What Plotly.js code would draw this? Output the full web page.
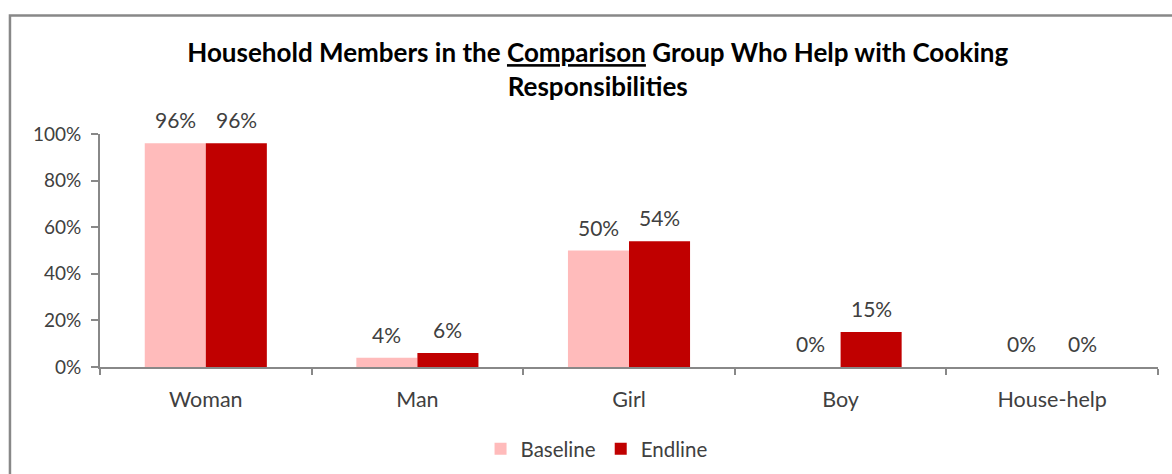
<!DOCTYPE html>
<html>
<head>
<meta charset="utf-8">
<script src="https://cdn.plot.ly/plotly-3.0.1.min.js"></script>
<style>html,body{margin:0;padding:0;background:#fff;}</style>
</head>
<body>
<div id="chart" style="width:1172px;height:474px;"></div>
<script>
var categories = ["Woman", "Man", "Girl", "Boy", "House-help"];
var baseline = [0.96, 0.04, 0.50, 0.00, 0.00];
var endline = [0.96, 0.06, 0.54, 0.15, 0.00];
var seriesNames = ["Baseline", "Endline"];
var seriesColors = ["#FFBBBB", "#C00000"];

var font = "Lato, 'Open Sans', sans-serif";
var textColor = "#404040";

function pct(v) { return Math.round(v * 100) + "%"; }

var traces = [baseline, endline].map(function (vals, i) {
  return {
    type: "bar", name: seriesNames[i], x: categories, y: vals,
    marker: {color: seriesColors[i]},
    hoverinfo: "none"
  };
});

var BAR_HALF = 30.5;
var annotations = [];
[baseline, endline].forEach(function (vals, i) {
  vals.forEach(function (v, j) {
    annotations.push({
      xref: "x", yref: "y", x: categories[j], y: v,
      xshift: i === 0 ? -BAR_HALF : BAR_HALF, yshift: 9,
      xanchor: "center", yanchor: "bottom", showarrow: false,
      text: pct(v), font: {family: font, size: 21, color: textColor}
    });
  });
});

var layout = {
  width: 1172, height: 474,
  margin: {l: 100, r: 14, t: 134, b: 107},
  paper_bgcolor: "#fff", plot_bgcolor: "#fff",
  font: {family: font, size: 18, color: textColor},
  barmode: "group", bargap: 0.423, bargroupgap: 0,
  showlegend: true,
  title: {
    text: "<b>Household Members in the <u>Comparison</u> Group Who Help with Cooking<br>Responsibilities</b>",
    font: {family: font, size: 26, color: "#000"},
    x: 0.51, xanchor: "center", xref: "container",
    y: 0.869, yanchor: "middle", yref: "container"
  },
  xaxis: {
    showline: true, linecolor: "#888888", linewidth: 2,
    ticks: "outside", ticklen: 6, tickcolor: "#888888", tickwidth: 2,
    tickson: "boundaries", showgrid: false, zeroline: false,
    ticklabelstandoff: 12,
    tickfont: {family: font, size: 21.5, color: textColor}
  },
  yaxis: {
    range: [0, 1], tickformat: ".0%", dtick: 0.2,
    showline: true, linecolor: "#888888", linewidth: 2,
    ticks: "outside", ticklen: 7, tickcolor: "#888888", tickwidth: 2,
    showgrid: false, zeroline: false,
    ticklabelstandoff: 6,
    tickfont: {family: font, size: 19, color: textColor}
  },
  legend: {
    orientation: "h", x: 0.509, xanchor: "center", xref: "container",
    y: 0.053, yanchor: "middle", yref: "container",
    font: {family: font, size: 20.5, color: textColor},
    traceorder: "normal", itemwidth: 30
  },
  annotations: annotations,
  shapes: [{
    type: "rect", xref: "paper", yref: "paper",
    x0: -0.0851, x1: 1.03, y0: -0.6, y1: 1.509,
    line: {color: "#888888", width: 2.5}, fillcolor: "rgba(0,0,0,0)", layer: "below"
  }]
};

Plotly.newPlot("chart", traces, layout, {displayModeBar: false, staticPlot: true});
</script>
</body>
</html>
